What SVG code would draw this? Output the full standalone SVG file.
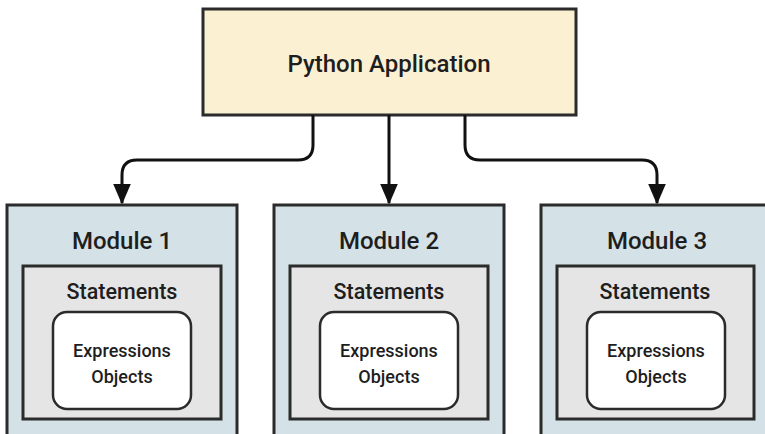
<svg xmlns="http://www.w3.org/2000/svg" width="765" height="434" viewBox="0 0 765 434">
<style>
text{font-family:Roboto,"Liberation Sans",sans-serif;font-weight:500;fill:#1e1e1e;text-anchor:middle;dominant-baseline:central}
.app{fill:#fcf0d3;stroke:#2b2b2b;stroke-width:3}
.mod{fill:#d4e2e7;stroke:#2b2b2b;stroke-width:3}
.st{fill:#e5e5e5;stroke:#2b2b2b;stroke-width:3}
.ex{fill:#ffffff;stroke:#2b2b2b;stroke-width:2.5}
.t1{font-size:24px}
.t2{font-size:21.5px}
.t3{font-size:18px}
.c{fill:none;stroke:#111;stroke-width:3}
</style>
<defs>
<marker id="ah" markerWidth="7" markerHeight="6" refX="6.5" refY="3" orient="auto" markerUnits="strokeWidth">
<path d="M0,0 L7,3 L0,6 Z" fill="#111"/>
</marker>
</defs>
<rect width="765" height="434" fill="#ffffff"/>
<g id="app">
<rect class="app" x="203" y="9" width="373" height="106"/>
<text class="t1" x="389" y="64">Python Application</text>
</g>
<g id="module1">
<rect class="mod" x="7" y="205" width="230" height="240"/>
<text class="t1" x="122" y="241">Module 1</text>
<rect class="st" x="23" y="266" width="198" height="153"/>
<text class="t2" x="122" y="291">Statements</text>
<rect class="ex" x="53" y="312" width="138" height="97" rx="14"/>
<text class="t3" x="122" y="350">Expressions</text>
<text class="t3" x="122" y="376">Objects</text>
</g>
<g id="module2">
<rect class="mod" x="274" y="205" width="230" height="240"/>
<text class="t1" x="389" y="241">Module 2</text>
<rect class="st" x="290" y="266" width="198" height="153"/>
<text class="t2" x="389" y="291">Statements</text>
<rect class="ex" x="320" y="312" width="138" height="97" rx="14"/>
<text class="t3" x="389" y="350">Expressions</text>
<text class="t3" x="389" y="376">Objects</text>
</g>
<g id="module3">
<rect class="mod" x="541" y="205" width="232" height="240"/>
<text class="t1" x="657" y="241">Module 3</text>
<rect class="st" x="557" y="266" width="197" height="153"/>
<text class="t2" x="655" y="291">Statements</text>
<rect class="ex" x="587" y="312" width="138" height="97" rx="14"/>
<text class="t3" x="656" y="350">Expressions</text>
<text class="t3" x="656" y="376">Objects</text>
</g>
<g id="connectors">
<path class="c" d="M313,115 V145 Q313,160 298,160 H137 Q122,160 122,175 V203" marker-end="url(#ah)"/>
<path class="c" d="M389,115 V203" marker-end="url(#ah)"/>
<path class="c" d="M465,115 V145 Q465,160 480,160 H642 Q657,160 657,175 V203" marker-end="url(#ah)"/>
</g>
</svg>
